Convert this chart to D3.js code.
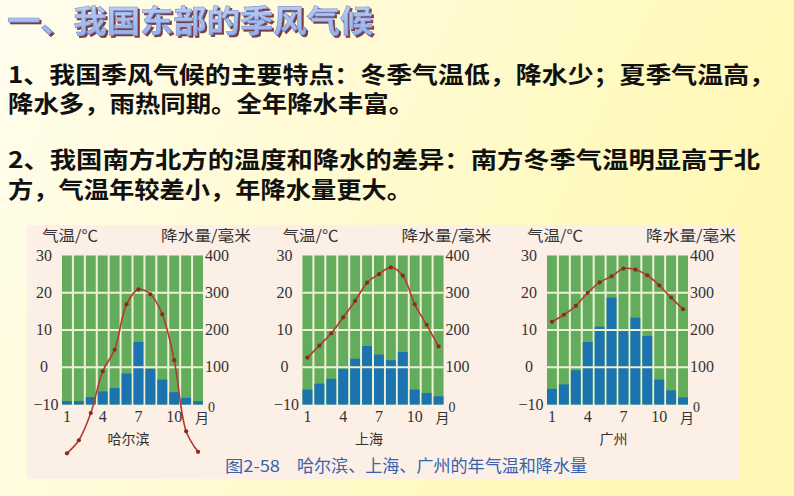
<!DOCTYPE html>
<html><head><meta charset="utf-8">
<script src="https://cdn.jsdelivr.net/npm/d3@7"></script>
<style>html,body{margin:0;padding:0;overflow:hidden;background:#fffbe0}</style>
</head><body>
<svg id="chart" width="794" height="496"></svg>
<script>
// ---- data ----
const months = [1,2,3,4,5,6,7,8,9,10,11,12];
const monthTickLabels = [1,4,7,10];
const tempTicks = [30,20,10,0,-10];
const precipTicks = [400,300,200,100,0];
const cities = ["哈尔滨","上海","广州"];
const harbinTemp = [-23.1,-19.6,-12.3,-1.1,4.7,16.9,20.9,19.6,14.2,1.9,-17.2,-22.7];
const harbinPrecip = [9,9,20,35,44,83,168,96,67,33,18,9];
const shanghaiTemp = [2.6,5.8,9.1,13.4,17.8,22.7,25.0,26.8,24.6,16.9,11.4,5.6];
const shanghaiPrecip = [40,56,69,96,123,157,134,119,141,40,31,22];
const guangzhouTemp = [12.2,14.1,16.5,20.0,22.8,24.4,26.5,26.2,24.7,22.0,18.7,15.6];
const guangzhouPrecip = [42,54,92,168,209,287,197,233,184,67,38,19];
const titleText = "一、我国东部的季风气候";
const bodyLines = [
  "1、我国季风气候的主要特点：冬季气温低，降水少；夏季气温高，",
  "降水多，雨热同期。全年降水丰富。",
  "2、我国南方北方的温度和降水的差异：南方冬季气温明显高于北",
  "方，气温年较差小，年降水量更大。"
];
const captionNo = "图2-58";
const captionText = "哈尔滨、上海、广州的年气温和降水量";

(function(){
const svg = d3.select("#chart");
const defs = svg.append("defs");
const bg = defs.append("linearGradient").attr("id","bg").attr("x1","0").attr("y1","0").attr("x2","1").attr("y2","0.3");
bg.append("stop").attr("offset","0").attr("stop-color","#fffdee");
bg.append("stop").attr("offset","1").attr("stop-color","#fff8b4");
const tg = defs.append("linearGradient").attr("id","tg").attr("x1","0").attr("y1","0").attr("x2","0").attr("y2","1");
tg.append("stop").attr("offset","0").attr("stop-color","#c4d6f8");
tg.append("stop").attr("offset","1").attr("stop-color","#8eacea");
const sh = defs.append("filter").attr("id","sh").attr("x","-5%").attr("y","-20%").attr("width","110%").attr("height","150%");
sh.append("feDropShadow").attr("dx",2).attr("dy",2).attr("stdDeviation",0.4).attr("flood-color","#6b2a38").attr("flood-opacity",0.9);

svg.append("rect").attr("width",794).attr("height",496).attr("fill","url(#bg)");

// title
const tf = "'Noto Sans CJK SC', sans-serif";
svg.append("text").attr("x",7).attr("y",32).attr("font-family",tf).attr("font-weight",700)
  .attr("font-size",31).attr("fill","url(#tg)").attr("stroke","#7d95d2").attr("stroke-width",0.6)
  .attr("filter","url(#sh)")
  .attr("textLength",366).attr("lengthAdjust","spacingAndGlyphs").text(titleText);

// body text
const lineY = [83,112,168,198];
const lineW = [767,406,752,404];
bodyLines.forEach((t,i)=>{
  svg.append("text").attr("x",8).attr("y",lineY[i]).attr("font-family",tf).attr("font-weight",700)
    .attr("font-size",23).attr("fill","#111").attr("textLength",lineW[i]).attr("lengthAdjust","spacingAndGlyphs").text(t);
});

// figure panel
svg.append("rect").attr("x",27).attr("y",225).attr("width",713).attr("height",254).attr("fill","#fcefe6");

const plotW = 141, pTop = 255.5, pBottom = 404.5;
const lefts = [62, 302.5, 547];
const temps = [harbinTemp, shanghaiTemp, guangzhouTemp];
const precs = [harbinPrecip, shanghaiPrecip, guangzhouPrecip];
const serif = "'Liberation Serif', 'DejaVu Serif', serif";
const cjk = "'Noto Sans CJK SC', sans-serif";

lefts.forEach((L,ci)=>{
  const g = svg.append("g");
  const x = d3.scaleBand().domain(months).range([L, L+plotW]).paddingInner(0.17).paddingOuter(0);
  const yT = d3.scaleLinear().domain([-10,30]).range([pBottom, pTop]);
  const yP = d3.scaleLinear().domain([0,400]).range([pBottom, pTop]);
  g.append("rect").attr("x",L).attr("y",pTop).attr("width",plotW).attr("height",pBottom-pTop).attr("fill","#eef0d6");
  g.selectAll(".col").data(months).join("rect").attr("x",d=>x(d)).attr("y",pTop)
    .attr("width",x.bandwidth()).attr("height",pBottom-pTop).attr("fill","#62ac5b");
  g.selectAll(".bar").data(precs[ci]).join("rect").attr("x",(d,i)=>x(months[i])).attr("y",d=>yP(d))
    .attr("width",x.bandwidth()).attr("height",d=>yP(0)-yP(d)).attr("fill","#1b74b0");
  g.selectAll(".grid").data([20,10,0]).join("line").attr("x1",L).attr("x2",L+plotW)
    .attr("y1",d=>yT(d)).attr("y2",d=>yT(d)).attr("stroke","#eef0d6").attr("stroke-width",1.8);
  const pts = temps[ci].map((t,i)=>[x(months[i])+x.bandwidth()/2, yT(t)]);
  g.append("path").attr("d", d3.line().curve(d3.curveCatmullRom.alpha(0.5))(pts))
    .attr("fill","none").attr("stroke","#b8392b").attr("stroke-width",1.6);
  g.selectAll(".dot").data(pts).join("circle").attr("cx",d=>d[0]).attr("cy",d=>d[1]).attr("r",2.1).attr("fill","#8c2a1c");
  g.selectAll(".lt").data(tempTicks).join("text").attr("x",d=>d===-10? L-16 : L-18).attr("y",d=>yT(d)+5)
    .attr("text-anchor","middle").attr("font-family",serif).attr("font-size",16).attr("fill","#333")
    .text(d=>d<0? "\u2212"+Math.abs(d) : d);
  g.selectAll(".rt").data(precipTicks).join("text")
    .attr("x",d=>d===0? L+plotW+5 : L+plotW+14).attr("y",d=>d===0? pBottom+7 : yP(d)+5)
    .attr("text-anchor",d=>d===0?"start":"middle").attr("font-family",serif).attr("font-size",d=>d===0?14:16).attr("fill","#333")
    .text(d=>d);
  g.selectAll(".mt").data(monthTickLabels).join("text").attr("x",d=>x(d)+x.bandwidth()/2).attr("y",422)
    .attr("text-anchor","middle").attr("font-family",serif).attr("font-size",16).attr("fill","#333").text(d=>d);
  g.append("text").attr("x",L+plotW-1).attr("y",423).attr("text-anchor","middle").attr("font-family",cjk)
    .attr("font-size",14).attr("fill","#333").text("月");
  g.append("text").attr("x",L-20).attr("y",241).attr("font-family",cjk).attr("font-size",15).attr("fill","#333")
    .attr("textLength",56).attr("lengthAdjust","spacingAndGlyphs").text("气温/℃");
  g.append("text").attr("x",L+plotW+48).attr("y",241).attr("text-anchor","end").attr("font-family",cjk).attr("font-size",15)
    .attr("fill","#333").attr("textLength",90).attr("lengthAdjust","spacingAndGlyphs").text("降水量/毫米");
  g.append("text").attr("x",L+plotW/2-4).attr("y",444).attr("text-anchor","middle").attr("font-family",cjk)
    .attr("font-size",14).attr("fill","#333").text(cities[ci]);
});

svg.append("text").attr("x",225).attr("y",472).attr("font-family",cjk).attr("font-size",16).attr("fill","#3862ac")
  .attr("textLength",55).attr("lengthAdjust","spacingAndGlyphs").text(captionNo);
svg.append("text").attr("x",297).attr("y",472).attr("font-family",cjk).attr("font-size",17).attr("fill","#3862ac")
  .attr("textLength",290).attr("lengthAdjust","spacingAndGlyphs").text(captionText);
})();
</script>
</body></html>
